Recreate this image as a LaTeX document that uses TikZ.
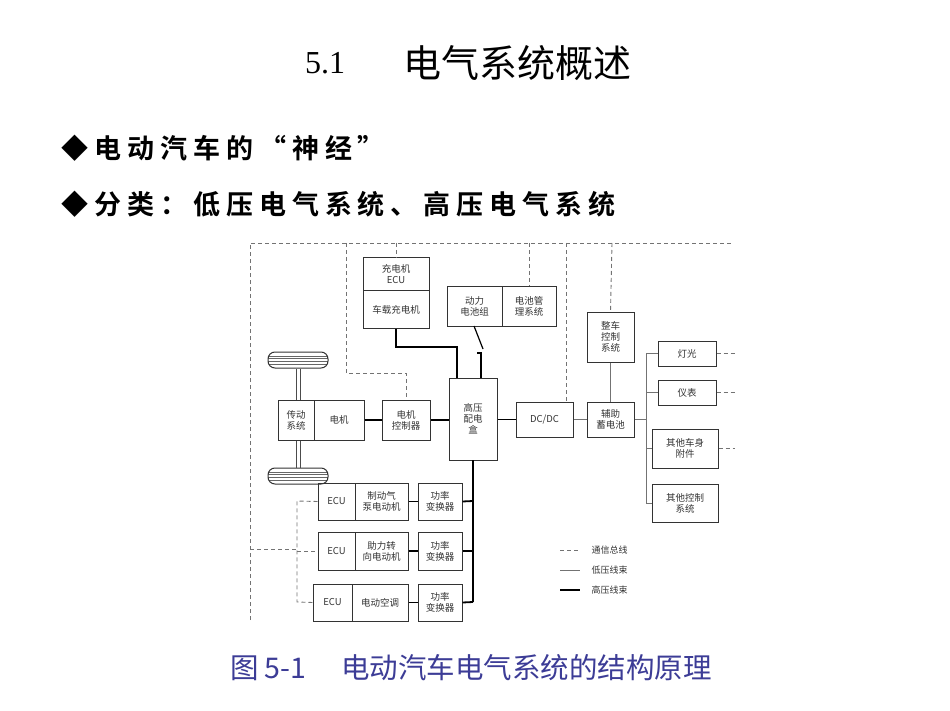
\documentclass[tikz,border=0pt]{standalone}
\usepackage{fontspec}
\setmainfont{Liberation Serif}
\newfontfamily\cjk{Noto Sans CJK SC}
\newfontfamily\cjkb[LetterSpace=22]{Noto Sans CJK SC Bold}
\begin{document}
\begin{tikzpicture}[x=1pt,y=-1pt,
  box/.style={draw=black!80,line width=1pt,align=center,inner sep=0pt,font=\cjk\fontsize{9.5}{11}\selectfont,text=black!80},
  hv/.style={line width=1.8pt,black},
  lv/.style={line width=0.9pt,black!55},
  bus/.style={line width=0.9pt,black!55,dash pattern=on 4pt off 3pt}]
\useasboundingbox (0,0) rectangle (950,711);
\newcommand\bx[6]{\node[box,minimum width={(#4-#2)*1pt},minimum height={(#5-#3)*1pt}] (#1) at ({(#2+#4)/2},{(#3+#5)/2}) {#6};}
% titles
\node[font=\fontsize{32}{34}\selectfont] (t1) at (325,63) {5.1};
\node[font=\cjk\fontsize{38}{40}\selectfont] (t2) at (517,63) {电气系统概述};
\node[anchor=west,font=\cjkb\fontsize{27}{30}\selectfont] (b1) at (58,148) {◆电动汽车的“神经”};
\node[anchor=west,font=\cjkb\fontsize{27}{30}\selectfont] (b2) at (58,204) {◆分类：低压电气系统、高压电气系统};
\node[font=\cjk\fontsize{28.5}{30}\selectfont,text={rgb,255:red,60;green,60;blue,150}] (cap) at (471,668) {图 5-1\quad\ 电动汽车电气系统的结构原理};
% boxes
\bx{cecu}{363}{258}{429}{291}{充电机\\ECU}
\bx{chg}{363}{291}{429}{328}{车载充电机}
\bx{bat}{447}{287}{502}{326}{动力\\电池组}
\bx{bms}{502}{287}{556}{326}{电池管\\理系统}
\bx{vcu}{587}{312}{634}{362}{整车\\控制\\系统}
\bx{lamp}{658}{341}{716}{366}{灯光}
\bx{inst}{658}{380}{716}{405}{仪表}
\bx{body}{652}{429}{718}{468}{其他车身\\附件}
\bx{octl}{652}{484}{718}{522}{其他控制\\系统}
\bx{trans}{278}{400}{314}{440}{传动\\系统}
\bx{mot}{314}{400}{364}{440}{电机}
\bx{mctl}{382}{400}{430}{440}{电机\\控制器}
\bx{pdu}{449}{378}{497}{460}{高压\\配电\\盒}
\bx{dcdc}{516}{402}{573}{437}{DC/DC}
\bx{aux}{587}{402}{634}{437}{辅助\\蓄电池}
\bx{e1}{318}{483}{355}{520}{ECU}
\bx{m1}{355}{483}{408}{520}{制动气\\泵电动机}
\bx{p1}{418}{483}{462}{520}{功率\\变换器}
\bx{e2}{318}{532}{355}{570}{ECU}
\bx{m2}{355}{532}{408}{570}{助力转\\向电动机}
\bx{p2}{418}{532}{462}{570}{功率\\变换器}
\bx{e3}{313}{584}{352}{621}{ECU}
\bx{m3}{352}{584}{408}{621}{电动空调}
\bx{p3}{418}{584}{462}{621}{功率\\变换器}
% wheels
\node[draw=black!80,line width=1pt,rounded corners=7pt,minimum width=60pt,minimum height=16pt,
  path picture={\foreach \yy in {-4,-1.3,1.3,4}{\draw[black!60,line width=0.6pt] ([yshift=\yy pt]path picture bounding box.west) -- ([yshift=\yy pt]path picture bounding box.east);}}] (w1) at (298,360) {};
\node[draw=black!80,line width=1pt,rounded corners=7pt,minimum width=60pt,minimum height=16pt,
  path picture={\foreach \yy in {-4,-1.3,1.3,4}{\draw[black!60,line width=0.6pt] ([yshift=\yy pt]path picture bounding box.west) -- ([yshift=\yy pt]path picture bounding box.east);}}] (w2) at (298,476) {};
\draw[black!70,line width=0.7pt] ([xshift=-2pt]w1.south) -- ([xshift=-2pt]w1.south |- trans.north) ([xshift=2pt]w1.south) -- ([xshift=2pt]w1.south |- trans.north);
\draw[black!70,line width=0.7pt] ([xshift=-2pt]w2.north) -- ([xshift=-2pt]w2.north |- trans.south) ([xshift=2pt]w2.north) -- ([xshift=2pt]w2.north |- trans.south);
% high voltage
\draw[hv] (chg.south) -- (396,347) -- (457,347) -- (457,378);
\coordinate (sw1) at (474,326);
\coordinate (sw2) at (483,349);
\draw[line width=1.2pt] (sw1) -- (sw2);
\draw[hv] (477,353) -- (481,353) -- (481,378);
\draw[hv] (mot.east) -- (mctl.west);
\draw[hv] (mctl.east) -- (pdu.west |- mctl.east);
\draw[hv] (pdu.east |- dcdc.west) -- (dcdc.west);
\draw[hv] (473,460) -- (473,602);
\draw[hv] (p1.east) -- (473,501);
\draw[hv] (p2.east) -- (473,551);
\draw[hv] (p3.east) -- (473,602);
\draw[hv] (m1.east) -- (p1.west);
\draw[hv] (m2.east) -- (p2.west);
\draw[hv] (m3.east) -- (p3.west);
% low voltage
\draw[lv] (dcdc.east) -- (aux.west);
\draw[lv] (vcu.south) -- (aux.north);
\draw[lv] (aux.east) -- (646,419.5);
\draw[lv] (646,353.5) -- (646,503);
\draw[lv] (646,353.5) -- (lamp.west);
\draw[lv] (646,392.5) -- (inst.west);
\draw[lv] (646,448.5) -- (body.west);
\draw[lv] (646,503) -- (octl.west);
% bus
\draw[bus] (250,620) -- (250,243) -- (733,243);
\draw[bus] (250,549) -- (297,549);
\draw[bus] (e1.west) -- (297,501) -- (297,602) -- (e3.west);
\draw[bus] (297,551) -- (e2.west);
\draw[bus] (346,243) -- (346,373) -- (406,373) -- (mctl.north);
\draw[bus] (396,243) -- (cecu.north);
\draw[bus] (529,243) -- (bms.north);
\draw[bus] (566,243) -- (566,402);
\draw[bus] (612,243) -- (vcu.north);
\draw[bus] (lamp.east) -- (735,353.5);
\draw[bus] (inst.east) -- (735,392.5);
\draw[bus] (body.east) -- (735,448.5);
% legend
\draw[bus] (560,550) -- (580,550);
\draw[lv] (560,570) -- (580,570);
\draw[hv] (560,590) -- (580,590);
\node[anchor=west,font=\cjk\fontsize{9}{10}\selectfont,text=black!80] (l1) at (588,550) {通信总线};
\node[anchor=west,font=\cjk\fontsize{9}{10}\selectfont,text=black!80] (l2) at (588,570) {低压线束};
\node[anchor=west,font=\cjk\fontsize{9}{10}\selectfont,text=black!80] (l3) at (588,590) {高压线束};
\end{tikzpicture}
\end{document}
